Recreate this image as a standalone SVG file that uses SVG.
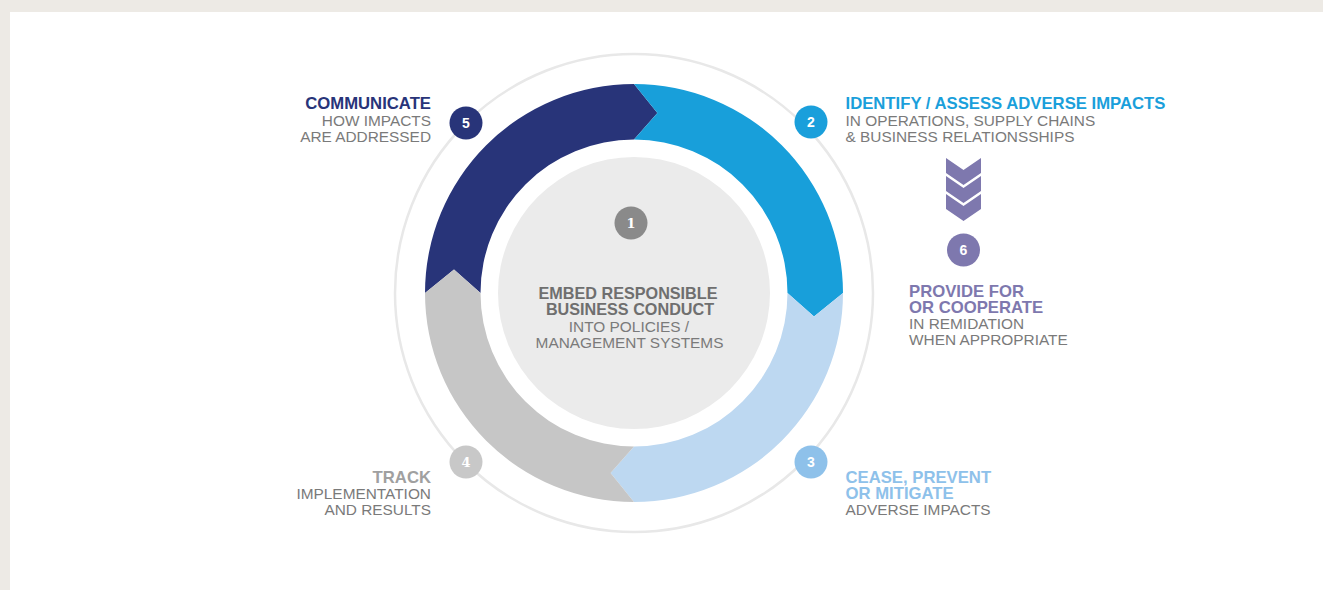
<svg xmlns="http://www.w3.org/2000/svg" width="1323" height="590" viewBox="0 0 1323 590">
  <style>
    text { font-family: "Liberation Sans", Arial, sans-serif; }
    .b { font-weight: bold; font-size: 16.7px; }
    .bc { font-weight: bold; font-size: 16.2px; fill: #6f6f6f; text-anchor: middle; }
    .r { font-size: 15.4px; fill: #7a7a7a; }
    .num { font-weight: bold; font-size: 14px; fill: #ffffff; text-anchor: middle; }
    .numserif { font-family: "DejaVu Serif", "Liberation Serif", serif; font-weight: bold; font-size: 13px; fill: #ffffff; text-anchor: middle; }
    .end { text-anchor: end; }
    .mid { text-anchor: middle; }
  </style>
  <rect x="0" y="0" width="1323" height="590" fill="#EDEAE5"/>
  <rect x="10" y="12" width="1313" height="578" fill="#ffffff"/>

  <circle cx="634" cy="293" r="239" fill="none" stroke="#E8E8E8" stroke-width="2.5"/>

  <g id="connectors">
    <path fill="#283479" d="M425,293 A209,209 0 0 1 634,84 L657.4,113 L634,139.5 A153.5,153.5 0 0 0 480.5,293 L454,269.6 Z"/>
    <path fill="#189FDA" d="M634,84 A209,209 0 0 1 843,293 L814,316.4 L787.5,293 A153.5,153.5 0 0 0 634,139.5 L657.4,113 Z"/>
    <path fill="#BDD8F1" d="M843,293 A209,209 0 0 1 634,502 L610.6,473 L634,446.5 A153.5,153.5 0 0 0 787.5,293 L814,316.4 Z"/>
    <path fill="#C6C6C6" d="M634,502 A209,209 0 0 1 425,293 L454,269.6 L480.5,293 A153.5,153.5 0 0 0 634,446.5 L610.6,473 Z"/>
    <g id="chevrons" fill="#7E78AE">
      <path d="M946,158 L963.5,170 L981,158 L981,173 L963.5,185 L946,173 Z"/>
      <path d="M946,176 L963.5,188 L981,176 L981,191 L963.5,203 L946,191 Z"/>
      <path d="M946,194 L963.5,206 L981,194 L981,209 L963.5,221 L946,209 Z"/>
    </g>
  </g>

  <g id="node1">
    <circle cx="634" cy="293" r="136" fill="#EBEBEB"/>
    <circle cx="631" cy="223" r="16.5" fill="#8A8A8A"/>
    <text class="numserif" x="631" y="228">1</text>
    <text class="bc" x="628" y="298.8">EMBED RESPONSIBLE</text>
    <text class="bc" x="630" y="315">BUSINESS CONDUCT</text>
    <text class="r mid" x="629" y="331.5">INTO POLICIES /</text>
    <text class="r mid" x="629.5" y="347.5">MANAGEMENT SYSTEMS</text>
  </g>

  <g id="node2">
    <circle cx="811" cy="122" r="16.5" fill="#1A9FDB"/>
    <text class="num" x="811" y="127">2</text>
    <text class="b" x="845.5" y="108.5" fill="#1A9FDB">IDENTIFY / ASSESS ADVERSE IMPACTS</text>
    <text class="r" x="845.5" y="125.5">IN OPERATIONS, SUPPLY CHAINS</text>
    <text class="r" x="845.5" y="141.5">&amp; BUSINESS RELATIONSSHIPS</text>
  </g>

  <g id="node3">
    <circle cx="811" cy="462" r="16.5" fill="#8EC1EA"/>
    <text class="num" x="811" y="467">3</text>
    <text class="b" x="845.5" y="482.5" fill="#8EC1EA">CEASE, PREVENT</text>
    <text class="b" x="845.5" y="499" fill="#8EC1EA">OR MITIGATE</text>
    <text class="r" x="845.5" y="515">ADVERSE IMPACTS</text>
  </g>

  <g id="node4">
    <circle cx="466" cy="462" r="16.5" fill="#C8C8C8"/>
    <text class="numserif" x="466" y="467">4</text>
    <text class="b end" x="431" y="482.7" fill="#A0A0A0">TRACK</text>
    <text class="r end" x="431" y="499">IMPLEMENTATION</text>
    <text class="r end" x="431" y="515">AND RESULTS</text>
  </g>

  <g id="node5">
    <circle cx="466" cy="123" r="16.5" fill="#283479"/>
    <text class="num" x="466" y="128">5</text>
    <text class="b end" x="431" y="109" fill="#283479">COMMUNICATE</text>
    <text class="r end" x="431" y="125.5">HOW IMPACTS</text>
    <text class="r end" x="431" y="141.5">ARE ADDRESSED</text>
  </g>

  <g id="node6">
    <circle cx="963.5" cy="250" r="16.5" fill="#7E78AE"/>
    <text class="num" x="963.5" y="255">6</text>
    <text class="b" x="909" y="296.7" fill="#7E78AE">PROVIDE FOR</text>
    <text class="b" x="909" y="313.3" fill="#7E78AE">OR COOPERATE</text>
    <text class="r" x="909" y="329">IN REMIDATION</text>
    <text class="r" x="909" y="345">WHEN APPROPRIATE</text>
  </g>
</svg>
